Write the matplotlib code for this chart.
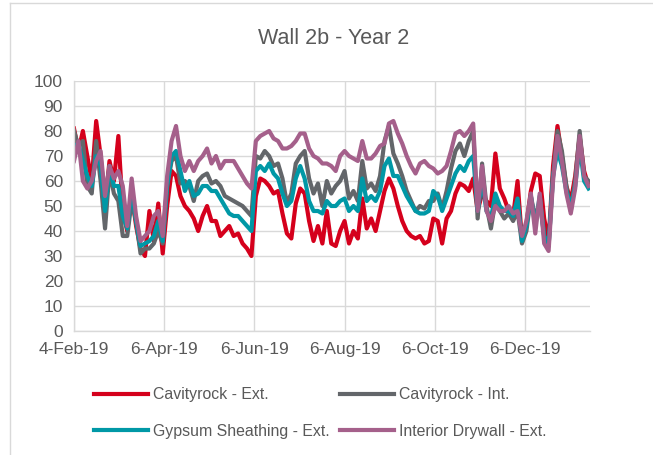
import matplotlib.pyplot as plt
import matplotlib.dates as mdates
import numpy as np
import pandas as pd

plt.rcParams['font.family'] = ['Liberation Sans', 'DejaVu Sans']

# readings every 3 days from 4-Feb-19
dates = pd.date_range('2019-02-04', periods=117, freq='3D')

cavity_ext = [81, 72, 80, 70, 60, 84, 70, 50, 68, 60, 78, 48, 40, 55, 42, 33, 30, 48, 36, 51,
              31, 50, 64, 62, 54, 50, 48, 45, 40, 46, 50, 44, 44, 38, 40, 42, 38, 39, 35, 33,
              30, 54, 61, 60, 58, 55, 56, 47, 39, 37, 51, 57, 55, 44, 36, 42, 35, 48, 35, 34,
              40, 44, 35, 40, 37, 53, 41, 45, 40, 48, 56, 61, 57, 50, 44, 40, 38, 37, 38, 35,
              36, 45, 44, 35, 45, 48, 55, 59, 58, 56, 61, 48, 55, 52, 50, 71, 57, 53, 48, 46,
              60, 36, 43, 56, 63, 62, 45, 36, 66, 82, 70, 58, 52, 62, 78, 64, 58]
cavity_int = [80, 74, 76, 58, 55, 76, 60, 41, 64, 55, 52, 38, 38, 52, 44, 31, 33, 33, 35, 40,
              35, 58, 68, 70, 59, 60, 58, 52, 60, 62, 63, 59, 60, 58, 54, 53, 52, 51, 50, 48,
              46, 70, 69, 72, 70, 66, 67, 61, 51, 55, 67, 70, 72, 61, 55, 59, 50, 60, 55, 58,
              60, 64, 53, 56, 52, 68, 57, 59, 56, 62, 76, 82, 71, 67, 62, 56, 52, 48, 50, 49,
              52, 52, 55, 49, 56, 65, 72, 75, 70, 76, 80, 45, 67, 50, 41, 52, 48, 45, 47, 44,
              48, 35, 40, 54, 45, 52, 38, 34, 62, 80, 72, 58, 48, 60, 80, 62, 60]
gypsum_ext = [74, 75, 68, 62, 58, 70, 66, 48, 66, 58, 58, 46, 41, 56, 44, 34, 35, 36, 38, 44,
              36, 58, 70, 72, 64, 56, 60, 54, 55, 58, 58, 56, 56, 53, 50, 47, 46, 46, 44, 42,
              40, 64, 66, 64, 67, 63, 61, 55, 50, 52, 61, 66, 61, 52, 48, 48, 47, 52, 50, 50,
              52, 53, 48, 50, 48, 61, 52, 54, 52, 56, 66, 69, 62, 62, 58, 54, 51, 48, 47, 47,
              48, 56, 54, 48, 53, 58, 63, 66, 64, 68, 70, 48, 60, 48, 45, 55, 50, 48, 48, 46,
              53, 36, 42, 54, 42, 54, 38, 34, 62, 72, 66, 56, 50, 58, 74, 60, 57]
drywall_ext = [68, 76, 60, 57, 60, 68, 72, 54, 66, 61, 64, 58, 42, 61, 46, 36, 38, 40, 46, 48,
               38, 62, 76, 82, 70, 64, 68, 64, 68, 70, 73, 67, 70, 65, 68, 68, 68, 65, 62, 59,
               57, 76, 78, 79, 80, 77, 76, 73, 73, 74, 76, 79, 79, 73, 70, 69, 67, 67, 66, 64,
               70, 72, 70, 69, 68, 76, 69, 69, 71, 74, 75, 83, 84, 79, 75, 70, 66, 63, 67, 68,
               66, 65, 63, 64, 66, 72, 79, 80, 78, 80, 83, 48, 66, 48, 44, 50, 48, 48, 50, 47,
               48, 38, 44, 55, 39, 55, 35, 32, 60, 78, 68, 55, 47, 57, 78, 62, 58]

labels = ['Cavityrock - Ext.', 'Cavityrock - Int.', 'Gypsum Sheathing - Ext.', 'Interior Drywall - Ext.']
colors = ['#d5001c', '#63666a', '#0098a6', '#a5608b']

fig = plt.figure(figsize=(6.53, 4.55), dpi=100)
ax = fig.add_axes([74 / 653, 1 - 331 / 455, 516 / 653, 250 / 455])

# Excel draws the series in this order: red, gray, teal, purple on top
lines = []
for vals, lab, col in zip([cavity_ext, cavity_int, gypsum_ext, drywall_ext], labels, colors):
    ln, = ax.plot(dates, vals, color=col, lw=3, label=lab, solid_joinstyle='round')
    lines.append(ln)

ax.set_ylim(0, 100)
ax.set_yticks(np.arange(0, 101, 10))
ax.set_xlim(pd.Timestamp('2019-02-04'), pd.Timestamp('2020-01-19'))
ticks = pd.to_datetime(['2019-02-04', '2019-04-06', '2019-06-06', '2019-08-06', '2019-10-06', '2019-12-06'])
ax.set_xticks(ticks)
ax.xaxis.set_major_formatter(mdates.DateFormatter('%-d-%b-%y'))

ax.grid(True, color='#d9d9d9', lw=1)
ax.set_axisbelow(True)
for s in ['top', 'right']:
    ax.spines[s].set_visible(False)
for s in ['left', 'bottom']:
    ax.spines[s].set_color('#d9d9d9')
    ax.spines[s].set_linewidth(1)
ax.tick_params(length=0, labelsize=12.5, colors='#595959', pad=8)

fig.text(334 / 653, 1 - 38 / 455, 'Wall 2b - Year 2', ha='center', va='center',
         fontsize=15.5, color='#595959')

# row-wise legend order, like Excel
order = [0, 2, 1, 3]
fig.legend([lines[i] for i in order], [labels[i] for i in order],
           loc='center left', bbox_to_anchor=(94 / 653, 1 - 413 / 455), ncol=2, frameon=False,
           fontsize=11.4, handlelength=3.4, labelspacing=1.35, columnspacing=0.7,
           handletextpad=0.3, labelcolor='#595959', borderpad=0, borderaxespad=0)

# outer chart border
fig.add_artist(plt.Line2D([10 / 653, 10 / 653], [0, 1 - 3 / 455], color='#d9d9d9', lw=1,
                          transform=fig.transFigure))
fig.add_artist(plt.Line2D([10 / 653, 1], [1 - 3 / 455, 1 - 3 / 455], color='#d9d9d9', lw=1,
                          transform=fig.transFigure))

fig.savefig('out.png', dpi=100)
